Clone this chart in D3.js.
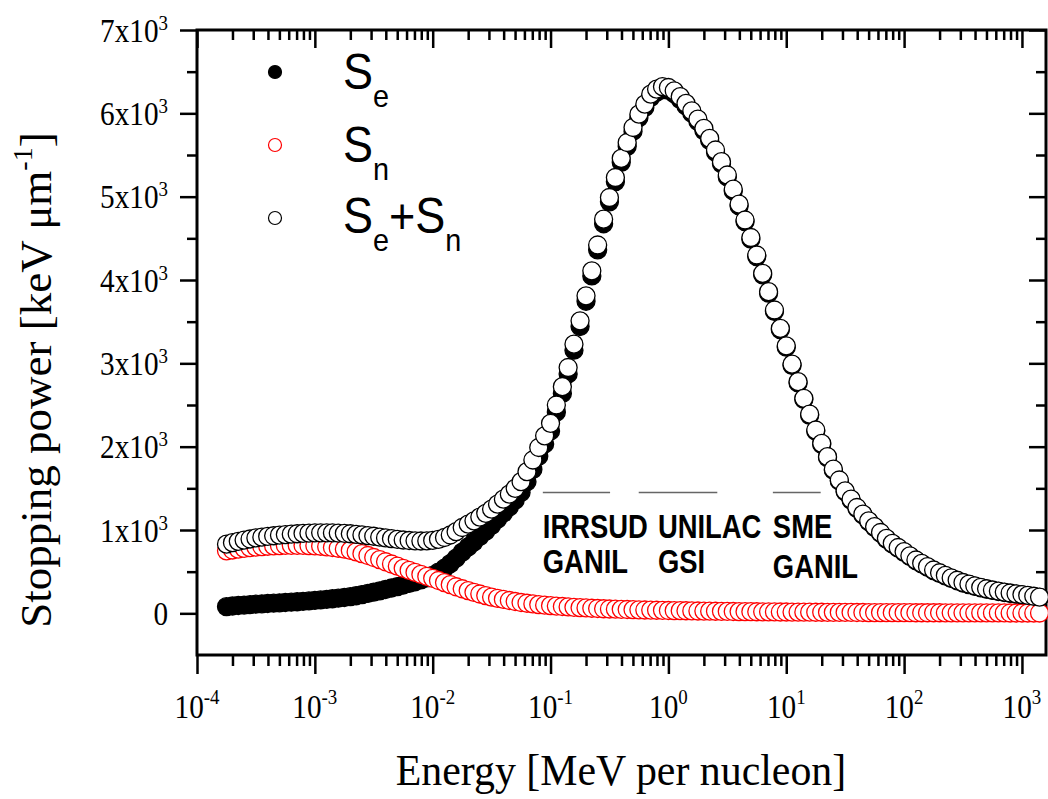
<!DOCTYPE html>
<html><head><meta charset="utf-8">
<script src="https://cdn.jsdelivr.net/npm/d3@7"></script>
<style>body{margin:0;background:#fff} svg{display:block}</style>
</head><body>
<svg id="c" width="1048" height="799"></svg>
<script>
// Energy [MeV per nucleon]
const energy = [
  1.78e-4,2.00e-4,2.24e-4,2.51e-4,2.82e-4,3.16e-4,3.55e-4,3.98e-4,4.47e-4,5.01e-4,5.62e-4,6.31e-4,7.08e-4,7.94e-4,8.91e-4,
  1.00e-3,1.12e-3,1.26e-3,1.41e-3,1.58e-3,1.78e-3,2.00e-3,2.24e-3,2.51e-3,2.82e-3,3.16e-3,3.55e-3,3.98e-3,4.47e-3,5.01e-3,5.62e-3,6.31e-3,7.08e-3,7.94e-3,8.91e-3,
  1.00e-2,1.12e-2,1.26e-2,1.41e-2,1.58e-2,1.78e-2,2.00e-2,2.24e-2,2.51e-2,2.82e-2,3.16e-2,3.55e-2,3.98e-2,4.47e-2,5.01e-2,5.62e-2,6.31e-2,7.08e-2,7.94e-2,8.91e-2,
  1.00e-1,1.12e-1,1.26e-1,1.41e-1,1.58e-1,1.78e-1,2.00e-1,2.24e-1,2.51e-1,2.82e-1,3.16e-1,3.55e-1,3.98e-1,4.47e-1,5.01e-1,5.62e-1,6.31e-1,7.08e-1,7.94e-1,8.91e-1,
  1.00,1.12,1.26,1.41,1.58,1.78,2.00,2.24,2.51,2.82,3.16,3.55,3.98,4.47,5.01,5.62,6.31,7.08,7.94,8.91,
  10.0,11.2,12.6,14.1,15.8,17.8,20.0,22.4,25.1,28.2,31.6,35.5,39.8,44.7,50.1,56.2,63.1,70.8,79.4,89.1,
  100,112,126,141,158,178,200,224,251,282,316,355,398,447,501,562,631,708,794,891,
  1000,1120,1260,1410
];
// Electronic stopping power S_e [keV/um]
const se = [
  80,88,94,99,104,110,114,118,122,126,130,134,139,144,149,
  155,161,168,175,182,190,200,211,225,239,255,270,286,304,321,340,359,379,401,426,
  455,494,541,596,661,735,797,858,923,987,1055,1130,1203,1276,1358,1450,1579,1727,1885,2032,
  2188,2413,2638,2873,3158,3442,3745,4049,4362,4675,4938,5180,5412,5604,5786,5948,6070,6191,6253,6284,
  6276,6237,6168,6089,6001,5902,5793,5674,5535,5396,5237,5068,4889,4700,4490,4281,4062,3842,3623,3404,
  3194,2975,2765,2566,2376,2187,2027,1868,1718,1589,1459,1359,1260,1180,1101,1031,961,891,832,782,
  732,682,633,593,553,513,480,449,419,391,364,344,325,307,290,275,262,250,240,230,
  221,211,201,191
];
// Nuclear stopping power S_n [keV/um]
const sn = [
  750,760,770,780,788,795,800,805,809,812,815,816,816,815,813,
  810,805,798,790,781,770,755,737,716,694,670,645,619,592,566,540,515,491,467,443,
  420,394,369,344,319,295,273,252,232,213,195,180,167,154,142,130,121,113,105,98,
  92,87,82,77,72,68,65,61,58,55,52,50,48,46,44,42,40,39,37,36,
  34,33,32,31,29,28,27,26,25,24,23,22,21,20,20,19,18,18,17,16,
  16,15,15,14,14,13,13,12,12,11,11,11,10,10,9,9,9,9,8,8,
  8,8,7,7,7,7,7,6,6,6,6,6,5,5,5,5,5,5,4,4,
  4,4,4,4
];
const xTickExponents = [-4,-3,-2,-1,0,1,2,3];
const yTickValues = [0,1000,2000,3000,4000,5000,6000,7000];
const yTickMain = ["0","1x10","2x10","3x10","4x10","5x10","6x10","7x10"];
const yTickSup = ["","3","3","3","3","3","3","3"];
const facilityLine1 = ["IRRSUD","UNILAC","SME"];
const facilityLine2 = ["GANIL","GSI","GANIL"];
const facilityStart = [0.086,0.56,7.7];
const facilityEnd = [0.32,2.6,19.6];
const facilityLabelE = [0.086,0.815,7.7];
const facilityLineValue = 1450;

const svg = d3.select("#c");
const W = 1048, H = 799;
const x = d3.scaleLog().domain([1e-4,1.6e3]).range([197,1046]);
const y = d3.scaleLinear().domain([-500,7000]).range([655,30]);
const serif = "'Liberation Serif','Times New Roman',serif";
const sans = "'Liberation Sans',Arial,sans-serif";

const total = se.map((v,i)=>v+sn[i]);
const n = Math.min(energy.length, se.length, sn.length);
const pts = d3.range(n);

// minor tick values
const xMinor = [];
for (let e=-4;e<=3;e++) for (let m=2;m<=9;m++){ const v=m*Math.pow(10,e); if (v<1.6e3) xMinor.push(v); }
const xMajor = xTickExponents.map(e=>Math.pow(10,e));
const yMinor = d3.range(-500,7001,500).filter(v=>v%1000!==0 && v>-500);

function styleAxis(g){ g.select(".domain").remove(); g.selectAll(".tick line").attr("stroke","#000").attr("stroke-width",2.5); g.selectAll("text").remove(); }

// bottom (outward)
svg.append("g").attr("transform","translate(0,655)").call(d3.axisBottom(x).tickValues(xMajor).tickSize(19).tickFormat("")).call(styleAxis);
svg.append("g").attr("transform","translate(0,655)").call(d3.axisBottom(x).tickValues(xMinor).tickSize(11).tickFormat("")).call(styleAxis);
// top (inward)
svg.append("g").attr("transform","translate(0,30)").call(d3.axisBottom(x).tickValues(xMajor).tickSize(18).tickFormat("")).call(styleAxis);
svg.append("g").attr("transform","translate(0,30)").call(d3.axisBottom(x).tickValues(xMinor).tickSize(10).tickFormat("")).call(styleAxis);
// left (outward)
svg.append("g").attr("transform","translate(197,0)").call(d3.axisLeft(y).tickValues(yTickValues).tickSize(17).tickFormat("")).call(styleAxis);
svg.append("g").attr("transform","translate(197,0)").call(d3.axisLeft(y).tickValues(yMinor).tickSize(10).tickFormat("")).call(styleAxis);
// right (inward)
svg.append("g").attr("transform","translate(1046,0)").call(d3.axisLeft(y).tickValues(yTickValues).tickSize(17).tickFormat("")).call(styleAxis);
svg.append("g").attr("transform","translate(1046,0)").call(d3.axisLeft(y).tickValues(yMinor).tickSize(10).tickFormat("")).call(styleAxis);

// frame
svg.append("rect").attr("x",197).attr("y",30).attr("width",1046-197).attr("height",655-30)
  .attr("fill","none").attr("stroke","#000").attr("stroke-width",3);

// x tick labels
xTickExponents.forEach(e=>{
  const g = svg.append("g").attr("transform",`translate(${x(Math.pow(10,e))},718) scale(0.86,1)`);
  const t = g.append("text").attr("text-anchor","middle").attr("font-family",serif).attr("font-size",34).attr("fill","#000");
  t.append("tspan").text("10");
  t.append("tspan").attr("font-size",22).attr("dy",-14).text(String(e).replace("-","-"));
});
// y tick labels
yTickValues.forEach((v,i)=>{
  const g = svg.append("g").attr("transform",`translate(168,${y(v)+11.5}) scale(0.86,1)`);
  const t = g.append("text").attr("text-anchor","end").attr("font-family",serif).attr("font-size",34).attr("fill","#000");
  t.append("tspan").text(yTickMain[i]);
  if (yTickSup[i]) t.append("tspan").attr("font-size",22).attr("dy",-12).text(yTickSup[i]);
});

// axis titles
{
  const g = svg.append("g").attr("transform","translate(621,785) scale(0.93,1)");
  g.append("text").attr("text-anchor","middle").attr("font-family",serif).attr("font-size",45).text("Energy [MeV per nucleon]");
}
{
  const g = svg.append("g").attr("transform","translate(51,380) rotate(-90)");
  const t = g.append("text").attr("text-anchor","middle").attr("font-family",serif).attr("font-size",45);
  t.append("tspan").text("Stopping power [keV \u03bcm");
  t.append("tspan").attr("font-size",28).attr("dy",-19).text("-1");
  t.append("tspan").attr("dy",19).text("]");
}

// facility lines & labels
facilityStart.forEach((s,i)=>{
  svg.append("line").attr("x1",x(s)).attr("x2",x(facilityEnd[i])).attr("y1",y(facilityLineValue)).attr("y2",y(facilityLineValue))
    .attr("stroke","#666").attr("stroke-width",1.3);
});
const lab1Y = [904,904,904], lab2Y = [484,484,424];
facilityLine1.forEach((s,i)=>{
  const g1 = svg.append("g").attr("transform",`translate(${x(facilityLabelE[i])},${y(lab1Y[i])}) scale(0.83,1)`);
  g1.append("text").attr("font-family",sans).attr("font-weight","bold").attr("font-size",33).text(s);
  const g2 = svg.append("g").attr("transform",`translate(${x(facilityLabelE[i])},${y(lab2Y[i])}) scale(0.83,1)`);
  g2.append("text").attr("font-family",sans).attr("font-weight","bold").attr("font-size",33).text(facilityLine2[i]);
});

// data markers
const R = 9;
const plot = svg.append("g");
plot.append("g").selectAll("circle").data(pts).join("circle")
  .attr("cx",i=>x(energy[i])).attr("cy",i=>y(se[i])).attr("r",R)
  .attr("fill","#000").attr("stroke","#000").attr("stroke-width",1.3);
plot.append("g").selectAll("circle").data(pts).join("circle")
  .attr("cx",i=>x(energy[i])).attr("cy",i=>y(sn[i])).attr("r",R)
  .attr("fill","#fff").attr("stroke","#ff0000").attr("stroke-width",1.3);
plot.append("g").selectAll("circle").data(pts).join("circle")
  .attr("cx",i=>x(energy[i])).attr("cy",i=>y(total[i])).attr("r",R)
  .attr("fill","#fff").attr("stroke","#000").attr("stroke-width",1.3);

// legend
const legY = [72,145,218];
svg.append("circle").attr("cx",275).attr("cy",legY[0]).attr("r",6.5).attr("fill","#000").attr("stroke","#000").attr("stroke-width",1.2);
svg.append("circle").attr("cx",275).attr("cy",legY[1]).attr("r",6.5).attr("fill","#fff").attr("stroke","#ff0000").attr("stroke-width",1.2);
svg.append("circle").attr("cx",275).attr("cy",legY[2]).attr("r",6.5).attr("fill","#fff").attr("stroke","#000").attr("stroke-width",1.2);
function legText(yb, parts){
  const g = svg.append("g").attr("transform",`translate(343,${yb}) scale(0.9,1)`);
  const t = g.append("text").attr("font-family",sans).attr("font-size",50).attr("fill","#000");
  let down=false;
  parts.forEach(([s,sub])=>{
    const ts = t.append("tspan").text(s);
    if (sub && !down){ ts.attr("font-size",32).attr("dy",18); down=true; }
    else if (!sub && down){ ts.attr("dy",-18); down=false; }
  });
}
legText(89, [["S",false],["e",true]]);
legText(162, [["S",false],["n",true]]);
legText(233, [["S",false],["e",true],["+S",false],["n",true]]);
</script>
</body></html>
